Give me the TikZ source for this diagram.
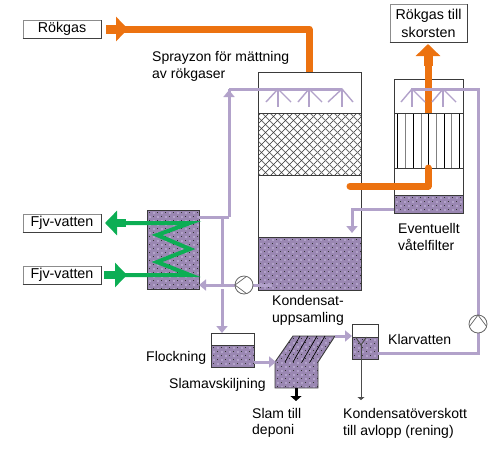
\documentclass[tikz,border=0pt]{standalone}
\usepackage{fontspec}
\setmainfont{Liberation Sans}
\usetikzlibrary{arrows.meta}
\definecolor{orangeflow}{HTML}{EC7210}
\definecolor{greenflow}{HTML}{0CAE54}
\definecolor{purpleflow}{HTML}{B2A2CA}
\definecolor{liquidfill}{HTML}{9A87B2}
\definecolor{tankline}{HTML}{3A3A3A}
\newcommand{\liquidfillarea}[5]{%
  \begin{scope}
    \clip #1;
    \fill[liquidfill] (#2,#3) rectangle (#4,#5);
    \pgfmathtruncatemacro{\nextx}{#2+8}
    \pgfmathtruncatemacro{\nexty}{#3+8}
    \foreach \px in {#2,\nextx,...,#4}{\foreach \py in {#3,\nexty,...,#5}{
      \fill[black!80] (\px+2,\py+2) rectangle +(1.3,1.3);
      \fill[black!80] (\px+6,\py+6) rectangle +(1.3,1.3);
      \fill[purpleflow] (\px+6,\py+2) rectangle +(2.4,2.4);
      \fill[purpleflow] (\px+2,\py+6) rectangle +(2.4,2.4);
    }}
  \end{scope}}
\tikzset{
  x=1pt,y=-1pt,
  txt/.style={anchor=base west,inner sep=0pt,font=\fontsize{14}{16}\selectfont},
  labelbox/.style={draw=black!45,fill=white,line width=0.8pt,inner sep=0pt,align=center,font=\fontsize{14.3}{18}\selectfont},
  boxshadow/.style={draw=black!75,line width=1.1pt},
  tank/.style={draw=tankline,line width=0.9pt},
  purple line/.style={draw=purpleflow,line width=3pt},
  purple arrow/.style={purple line,-{Triangle[width=11pt,length=7pt]}},
  spray/.style={draw=purpleflow,line width=1.4pt},
  orange line/.style={draw=orangeflow,line width=7pt,line join=round},
  green line/.style={draw=greenflow,line width=4pt,line join=miter},
  fat orange/.style={draw=orangeflow,line width=9pt,-{Triangle[width=24pt,length=12pt]}},
  fat green/.style={draw=greenflow,line width=8pt,-{Triangle[width=24pt,length=12pt]}},
  pump/.style={circle,draw=black!60,fill=white,line width=0.8pt,minimum size=18pt,inner sep=0pt},
}
\begin{document}
\begin{tikzpicture}
\useasboundingbox (0,0) rectangle (498,448);
% --- main tower
\fill[white] (258,72) rectangle (361,290);
\begin{scope}
  \clip (258,113) rectangle (361,175);
  \foreach \k in {-60,-52,...,180}{
    \draw[black!55,line width=0.8pt] (258+\k,113) -- +(70,70);
    \draw[black!80,line width=0.6pt] (361-\k,113) -- +(-70,70);
  }
\end{scope}
\liquidfillarea{(258,237) rectangle (361,290)}{258}{237}{361}{290}
\draw[tank] (258,72) rectangle (361,290);
\draw[tank] (258,113) -- (361,113) (258,175) -- (361,175) (258,237) -- (361,237);
% --- filter tower
\foreach \fx/\fc in {397/black,405/black!50,413/black,421/black!50,428/black,436/black!50,444/black,451/black!50,459/black}
  \draw[\fc,line width=0.9pt] (\fx,113) -- (\fx,168);
\liquidfillarea{(394,195) rectangle (463,213)}{394}{195}{463}{213}
\draw[tank] (394,79) rectangle (463,213);
\draw[tank] (394,113) -- (463,113) (394,168) -- (463,168) (394,195) -- (463,195);
% --- heat exchanger
\liquidfillarea{(147,210) rectangle (199,289)}{147}{210}{199}{289}
\draw[tank] (147,210) rectangle (199,289);
% --- flocculation
\liquidfillarea{(211,345) rectangle (254,367)}{211}{345}{254}{367}
\draw[tank] (211,333) rectangle (254,367);
\draw[tank] (211,345) -- (254,345);
% --- settler
\liquidfillarea{(293,336) -- (335,336) -- (318,362) -- (318,388) -- (275,388) -- (275,362) -- cycle}{275}{336}{335}{388}
\draw[tank] (293,336) -- (335,336) -- (318,362) -- (318,388) -- (275,388) -- (275,362) -- cycle;
\foreach \ta/\tb in {300/285,308/293,317/302,325/310}
  \draw[black,line width=0.7pt] (\ta,336) -- (\tb,362);
% --- clear water tank
\liquidfillarea{(352,337) rectangle (378,359)}{352}{337}{378}{359}
\draw[tank] (352,324) rectangle (378,359);
\draw[tank] (352,337) -- (378,337);

% --- named nodes and points
\node[labelbox,minimum width=78pt,minimum height=18pt] (rokgas) at (62,29) {Rökgas};
\node[labelbox,minimum width=77pt,minimum height=38pt] (skorsten) at (428.5,23) {Rökgas till\\skorsten};
\node[labelbox,minimum width=78pt,minimum height=18pt] (fjvut) at (62,223) {Fjv-vatten};
\node[labelbox,minimum width=78pt,minimum height=18pt] (fjvin) at (62,275) {Fjv-vatten};
\foreach \b in {rokgas,skorsten,fjvut,fjvin}
  \draw[boxshadow] (\b.south west) -- (\b.south east) -- (\b.north east);

\coordinate (o1) at (106,29);
\coordinate (o2) at (128,29);
\coordinate (o2a) at (120,29);
\coordinate (o3) at (309,29);
\coordinate (o4) at (309,72);
\coordinate (o5) at (350,186);
\coordinate (o6) at (428,186);
\coordinate (o7) at (428,168);
\coordinate (o8) at (428,113);
\coordinate (o9) at (428,66);
\coordinate (o10) at (428,44);

% --- orange flows
\draw[orange line] (o2a) -- (o3) -- (o4);
\draw[fat orange] (o1) -- (o2);
\draw[orange line,line cap=round] (o5) -- (o6) -- (o7);
\draw[orange line] (o8) -- (o9);
\draw[fat orange] (o9) -- (o10);

% --- spray headers
\coordinate (p1) at (342,89);
\coordinate (p2) at (229,89);
\coordinate (p3) at (229,217);
\coordinate (p4) at (199,217);
\coordinate (p5) at (222,217);
\coordinate (p6) at (222,285);
\coordinate (p7) at (222,289);
\coordinate (p8) at (222,333);
\coordinate (p9) at (272,285);
\coordinate (p10) at (199,285);
\coordinate (r1) at (411,89);
\coordinate (r2) at (478,89);
\coordinate (r3) at (478,353);
\coordinate (r4) at (378,353);
\coordinate (w1) at (394,209);
\coordinate (w2) at (352,209);
\coordinate (w3) at (352,233);

\foreach \sx/\sl/\sr in {278/266/291,309/298/322,342/328/353,412/401/425,443/432/456}{
  \draw[spray] (\sl,102) -- (\sx,89) -- (\sr,102);
  \draw[spray] (\sx,89) -- (\sx,107);
}
\draw[purple line] (p1) -- (p2);
\draw[purple line] (p5) -- (p6);
\draw[purple line] (p3) -- (p2);
\draw[purple arrow] (229,104) -- (229,90);
\draw[purple line] (p3) -- (p4);
\draw[purple arrow] (p7) -- (p8);
\draw[purple arrow] (p9) -- (p10);
\draw[purple line] (r1) -- (r2) -- (r3) -- (r4);
\draw[purple arrow] (w1) -- (w2) -- (w3);

\coordinate (f1) at (254,362);
\coordinate (f2) at (276,362);
\coordinate (f3) at (335,336);
\coordinate (f4) at (352,336);
\draw[purple arrow] (f1) -- (f2);
\draw[purple arrow] (f3) -- (f4);

% --- pumps
\node[pump] (pumpl) at (244,285) {};
\draw[black!60,line width=0.7pt] (235,285) -- (246.5,276.4) (235,285) -- (246.5,293.6);
\node[pump] (pumpr) at (478,324) {};
\draw[black!60,line width=0.7pt] (478,315) -- (469.4,326.5) (478,315) -- (486.6,326.5);

% --- green flows
\coordinate (g1) at (126,223);
\coordinate (g2) at (105,223);
\coordinate (g3) at (190,223);
\coordinate (g4) at (157,235);
\coordinate (g5) at (190,249);
\coordinate (g6) at (157,262);
\coordinate (g7) at (190,275);
\coordinate (g8) at (127,275);
\coordinate (g8a) at (120,275);
\coordinate (g9) at (104,275);
\draw[green line] (g1) -- (g3) -- (g4) -- (g5) -- (g6) -- (g7) -- (g8a);
\draw[fat green] (g1) -- (g2);
\draw[fat green] (g9) -- (g8);

% --- sludge and overflow
\coordinate (s1) at (296,388);
\coordinate (s2) at (296,401);
\draw[black,line width=3pt,-{Triangle[width=11pt,length=5pt]}] (s1) -- (s2);
\coordinate (d1) at (361,345);
\coordinate (d2) at (361,400);
\draw[black!70,line width=1pt,-{Triangle[width=7pt,length=3pt]}] (d1) -- (d2);
\draw[black!70,line width=1pt] (355.5,337) -- (d1) -- (366.5,337);

% --- labels
\node[txt] (t1) at (152,61) {Sprayzon för mättning};
\node[txt] (t2) at (152,78) {av rökgaser};
\node[txt] (t3) at (398,233) {Eventuellt};
\node[txt] (t4) at (398,250) {våtelfilter};
\node[txt] (t5) at (272,305) {Kondensat-};
\node[txt] (t6) at (272,322) {uppsamling};
\node[txt] (t7) at (146,361) {Flockning};
\node[txt] (t8) at (169,388) {Slamavskiljning};
\node[txt] (t9) at (252,418) {Slam till};
\node[txt] (t10) at (252,434) {deponi};
\node[txt] (t11) at (388,344) {Klarvatten};
\node[txt] (t12) at (343,418) {Kondensatöverskott};
\node[txt] (t13) at (343,435) {till avlopp (rening)};
\end{tikzpicture}
\end{document}
